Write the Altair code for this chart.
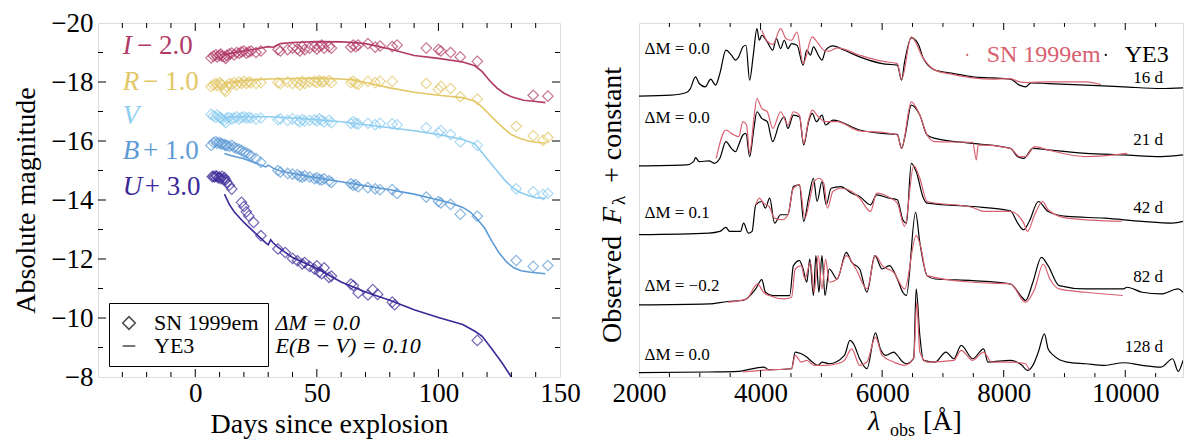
import altair as alt
import pandas as pd

FONT = "Liberation Serif"
RED = "#d9606e"

# ---------------- Left panel: light curves ----------------
bands = ["I", "R", "V", "B", "U"]
band_colors = ["#b23a66", "#e2c766", "#8ccdf0", "#5e9bd6", "#3a2a98"]
band_suffix = ["−  2.0", "−  1.0", "", "+  1.0", "+  3.0"]
label_mag = [-19.21, -18.0, -16.85, -15.67, -14.43]
letter_day = [-29.8, -29.8, -29.8, -29.8, -29.8]
suffix_day = [-24.0, -21.5, -21.5, -21.5, -20.8]

obs_day = [6.5, 7.5, 8.5, 9, 10, 10.5, 11, 12, 12.5, 13, 14, 15, 16, 17, 18, 19, 20, 21, 22, 23,
           25, 27, 34, 35, 38, 40, 42, 43, 44, 45, 47, 49, 50, 51, 52, 53, 55, 56, 64, 65,
           66, 67, 71, 74, 76, 81, 83, 95, 100, 101, 105, 109, 116, 132, 139, 143, 145]
obs_I = [-18.82, -18.88, -18.92, -18.85, -18.9, -18.95, -18.88, -18.85, -18.8, -18.9,
         -18.95, -18.98, -18.92, -19.0, -18.97, -19.02, -19.05, -18.98, -19.02, -19.05,
         -19.0, -19.05, -19.1, -19.05, -19.1, -19.15, -19.12, -19.05, -19.2, -19.1,
         -19.15, -19.2, -19.12, -19.2, -19.25, -19.15, -19.2, -19.15, -19.18, -19.25,
         -19.2, -19.25, -19.3, -19.18, -19.22, -19.2, -19.25, -19.15, -19.1, -19.05,
         -19.0, -18.85, -18.7, None, -17.55, None, -17.52]
obs_R = [-17.85, -17.9, -17.95, -17.88, -17.98, -17.92, -17.9, -17.75, -17.68, -17.85,
         -17.95, -17.92, -17.98, -17.9, -18.0, -17.95, -18.02, -17.95, -18.0, -17.98,
         -17.95, -17.98, -17.98, -17.95, -18.0, -17.95, -17.98, -17.9, -18.02, -17.95,
         -18.0, -18.02, -17.98, -18.05, -18.0, -18.02, -18.05, -17.98, -17.98, -18.02,
         -17.95, -17.92, -18.02, -17.98, -18.02, -18.02, None, -17.95, -17.75, -17.85,
         -17.78, -17.5, -17.42, -16.5, -16.18, -16.02, -16.12]
obs_V = [-16.9, -16.85, -16.8, -16.88, -16.8, -16.78, -16.75, -16.7, -16.62, -16.78,
         -16.8, -16.75, -16.78, -16.82, -16.75, -16.8, -16.82, -16.78, -16.8, -16.78,
         -16.75, -16.78, -16.72, -16.75, -16.7, -16.75, -16.7, -16.65, -16.72, -16.68,
         -16.7, -16.72, -16.68, -16.75, -16.7, -16.65, -16.7, -16.62, -16.6, -16.65,
         -16.6, -16.58, -16.6, -16.55, -16.6, -16.58, -16.55, -16.45, -16.28, -16.35,
         -16.22, -15.97, -15.85, -14.38, -14.28, -14.18, -14.22]
obs_B = [-15.85, -15.95, -15.98, -15.92, -15.95, -15.9, -15.9, -15.88, -15.85, -15.85,
         -15.82, -15.85, -15.78, -15.75, -15.72, -15.68, -15.62, -15.6, -15.55, -15.5,
         -15.4, -15.28, -15.0, -14.95, -14.9, -14.88, -14.85, -14.8, -14.78, -14.82,
         -14.78, -14.72, -14.75, -14.7, -14.68, -14.72, -14.65, -14.6, -14.55, -14.5,
         -14.52, -14.45, -14.42, -14.38, -14.35, -14.35, -14.22, -14.1, -13.95, -13.9,
         -13.85, -13.52, -13.45, -11.95, -11.75, None, -11.78]
obs_U_day = [7, 7.5, 8, 8.5, 9, 9.5, 10, 10.5, 11, 11.5, 12, 12.5, 13, 14, 15, 19, 20, 21, 22, 24,
             27, 34, 37, 40, 42, 44, 45, 47, 49, 50, 51, 52, 53, 55, 56, 64, 65, 67, 71, 73,
             75, 81, 82, 116]
obs_U = [-14.79, -14.8, -14.78, -14.82, -14.8, -14.75, -14.78, -14.72, -14.8, -14.7,
         -14.76, -14.68, -14.6, -14.5, -14.37, -13.92, -13.78, -13.6, -13.46, -13.24,
         -12.79, -12.34, -12.22, -12.02, -11.94, -11.83, -11.88, -11.75, -11.66, -11.77,
         -11.55, -11.5, -11.7, -11.38, -11.42, -11.15, -11.1, -10.85, -10.78, -10.96,
         -10.8, -10.54, -10.45, -9.24]

mod_I_day = [12, 15, 20, 25, 30, 32, 33, 35, 40, 50, 60, 65, 70, 80, 90, 100, 110, 115, 118, 121,
             124, 127, 130, 135, 140, 144]
mod_I = [-18.92, -18.98, -19.05, -19.12, -19.2, -19.18, -19.22, -19.3, -19.34, -19.37,
         -19.36, -19.34, -19.3, -19.12, -18.9, -18.8, -18.68, -18.55, -18.35, -18.05,
         -17.8, -17.62, -17.5, -17.38, -17.34, -17.3]
mod_R_day = [12, 20, 30, 40, 50, 60, 65, 70, 80, 90, 100, 110, 115, 118, 121, 124, 127, 130, 133,
             137, 140, 144]
mod_R = [-17.95, -18.05, -18.1, -18.12, -18.13, -18.1, -18.07, -17.98, -17.8, -17.65,
         -17.55, -17.47, -17.35, -17.15, -16.9, -16.65, -16.42, -16.22, -16.1, -16.0,
         -15.96, -15.93]
mod_V_day = [12, 20, 30, 40, 50, 60, 70, 80, 90, 100, 110, 115, 118, 121, 124, 127, 130, 133, 137,
             140, 144]
mod_V = [-16.8, -16.82, -16.82, -16.78, -16.72, -16.65, -16.55, -16.45, -16.35, -16.22,
         -16.05, -15.9, -15.6, -15.3, -15.0, -14.7, -14.45, -14.28, -14.15, -14.08, -14.05]
mod_B_day = [12, 15, 20, 25, 29, 30, 32, 35, 40, 50, 60, 70, 80, 90, 100, 105, 110, 113, 116, 119,
             122, 125, 128, 131, 134, 138, 144]
mod_B = [-15.58, -15.5, -15.4, -15.25, -15.12, -15.18, -15.08, -14.98, -14.9, -14.75,
         -14.62, -14.48, -14.35, -14.2, -14.0, -13.9, -13.75, -13.6, -13.35, -13.05,
         -12.6, -12.2, -11.9, -11.7, -11.6, -11.55, -11.5]
mod_U_day = [12, 14, 16, 20, 25, 29, 30, 31, 32, 34, 40, 50, 60, 70, 80, 90, 100, 110, 115, 118,
             122, 126, 130, 133]
mod_U = [-14.2, -13.85, -13.6, -13.24, -12.85, -12.55, -12.48, -12.65, -12.55, -12.4,
         -12.05, -11.68, -11.22, -10.88, -10.6, -10.28, -10.02, -9.78, -9.55, -9.38,
         -8.95, -8.5, -8.0, -7.7]

# ---------------- Right panel: spectra ----------------
epochs = ["16 d", "21 d", "42 d", "82 d", "128 d"]
offsets = [281, 211, 142, 72, 4]
dM_text = ["ΔM = 0.0", "ΔM = 0.0", "ΔM = 0.1", "ΔM = −0.2", "ΔM = 0.0"]
dM_rel = [48, 49, 22, 19, 18]
ep_rel = [19, 27, 27, 28, 26]

m16_wl = [2000, 2530, 2780, 2840, 2930, 2990, 3090, 3180, 3260, 3330, 3430, 3520, 3590, 3640, 3710,
          3760, 3820, 3880, 3940, 3980, 4020, 4110, 4200, 4260, 4330, 4390, 4450, 4510, 4600, 4700,
          4760, 4820, 4870, 4950, 5010, 5070, 5190, 5380, 5630, 6000, 6250, 6320, 6370, 6480, 6590,
          6680, 6870, 7180, 7490, 7800, 8110, 8260, 8360, 8450, 8730, 9350, 9970, 10590, 10950]
m16_fx = [0.7, 1.7, 4.3, 7.7, 20, 13.3, 10, 17.7, 11.7, 23.3, 46.7, 41.7, 36.7, 40, 50,
          51.7, 16.7, 41.7, 68.3, 56.7, 61.7, 55, 46.7, 58.3, 48.3, 56.7, 48.3, 53.3, 51.7, 31.7,
          46.7, 41.7, 50, 41.7, 36.7, 46.7, 51, 46.7, 40, 33.3, 31.7, 16.7, 35, 59, 53.3,
          38.3, 26.7, 23.3, 20, 19, 17.7, 11.7, 10, 14, 13.3, 11.7, 10, 8.3, 9]
o16_wl = [4020, 4110, 4200, 4330, 4420, 4510, 4600, 4700, 4850, 4950, 5040, 5130, 5260, 5630, 6000,
          6250, 6320, 6480, 6680, 6870, 7180, 7490, 7800, 8110, 8260, 8390, 8730, 9350, 9600]
o16_fx = [66.7, 55.7, 52.3, 68.3, 58.3, 56.7, 65, 33.3, 60, 53.3, 46.7, 45.7, 49, 41.7, 35.7,
          33.3, 17.7, 60, 38.3, 26.7, 22.3, 19, 17.7, 18.3, 15, 14.3, 15, 15, 12.3]

m21_wl = [2000, 2780, 2900, 2930, 2990, 3150, 3240, 3330, 3430, 3520, 3590, 3640, 3710, 3760, 3820,
          3890, 3940, 4020, 4110, 4200, 4300, 4390, 4450, 4540, 4640, 4710, 4790, 4850, 4920, 5010,
          5070, 5190, 5630, 6000, 6250, 6320, 6380, 6480, 6620, 6740, 6870, 7490, 8110, 8230, 8330,
          8480, 8730, 9350, 9970, 10590, 10950]
m21_fx = [0.7, 1.7, 5, 9, 5, 5.7, 3.3, 8.3, 25, 18.3, 15, 21.7, 31.7, 33.3, 10,
          38.3, 55, 48.3, 45, 25, 41.7, 50, 38.3, 51.7, 50, 21.7, 45, 53.3, 45, 51.7,
          41.7, 46.7, 36.7, 33.3, 32.3, 18.3, 31.7, 61.7, 51.7, 31.7, 28.3, 23.3, 18.3, 10, 8.3,
          18.3, 16.7, 13.3, 11.7, 10, 11.7]
o21_wl = [3270, 3430, 3520, 3640, 3710, 3770, 3820, 3890, 3940, 4020, 4110, 4200, 4330, 4450, 4540,
          4640, 4710, 4790, 4850, 4950, 5070, 5260, 5630, 6000, 6250, 6320, 6480, 6620, 6740, 6870,
          7490, 7550, 7580, 8110, 8260, 8360, 8510, 8730, 9350, 10030]
o21_fx = [8.3, 36.7, 33.3, 30, 45, 41.7, 13.3, 48.3, 68.3, 58.3, 55, 38.3, 55, 41.7, 55,
          51.7, 23.3, 46.7, 56.7, 50, 45, 45, 35.7, 34.3, 31.7, 18.3, 65, 51.7, 31.7, 25,
          24.3, 6.7, 21.7, 18.3, 10, 10, 20, 16.7, 10, 13.3]

m42_wl = [2000, 3150, 3330, 3430, 3490, 3670, 3720, 3800, 3860, 3920, 4020, 4080, 4150, 4230, 4330,
          4450, 4540, 4640, 4710, 4790, 4870, 4930, 5010, 5080, 5160, 5320, 5500, 5630, 5810, 5910,
          6120, 6250, 6340, 6400, 6480, 6560, 6680, 6740, 7490, 8110, 8230, 8330, 8420, 8570, 8730,
          9040, 9660, 10280, 10780, 10950]
m42_fx = [0.7, 2.3, 4, 8, 4, 4, 12.3, 2.3, 4, 30.7, 34, 27.3, 37.3, 12.3, 20.7,
          20.7, 49, 50.7, 14, 37.3, 57.3, 34, 54, 30.7, 47.3, 49, 42.3, 39, 30.7, 40.7,
          37.3, 35.7, 15.7, 12.3, 72.3, 64, 37.3, 32.3, 29, 24.7, 12.3, 5.7, 14, 34, 24,
          19, 17.3, 14, 12.3, 14]
o42_wl = [3920, 3980, 4050, 4140, 4230, 4360, 4450, 4540, 4640, 4730, 4820, 4880, 4960, 5040, 5100,
          5190, 5320, 5500, 5630, 5810, 5910, 6120, 6250, 6370, 6520, 6620, 6740, 7490, 7670, 8110,
          8330, 8390, 8510, 8640, 8730, 9040, 9940]
o42_fx = [30.7, 37.3, 32.3, 29, 17.3, 15.7, 20.7, 47.3, 50.7, 17.3, 39, 54, 57.3, 52.3, 27.3,
          44, 47.3, 44, 37.3, 24, 42.3, 38, 32.3, 9, 70, 57.3, 34, 28, 24, 24,
          12.3, 4, 20.7, 34, 25.7, 17.3, 14]

m82_wl = [2000, 3150, 3460, 3710, 3920, 4020, 4080, 4200, 4390, 4480, 4540, 4640, 4700, 4760, 4810,
          4870, 4910, 4960, 5010, 5060, 5130, 5260, 5410, 5500, 5630, 5750, 5880, 6000, 6120, 6250,
          6340, 6400, 6550, 6620, 6740, 6870, 7490, 8110, 8300, 8360, 8480, 8620, 8730, 8910, 9350,
          9970, 10030, 10280, 10590, 10870, 10950]
m82_fx = [0.3, 1.3, 3.7, 4.7, 16.3, 25.7, 13, 9.7, 9.7, 9.7, 39.7, 44.7, 36.3, 23, 46.3,
          9.7, 49.7, 13, 49.7, 9.7, 36.3, 26.3, 53, 43, 36.3, 13, 49.7, 36.3, 39.7, 26.3,
          13, 9.7, 93, 63, 29.7, 26.3, 24.7, 21.3, 8, 4.7, 23, 48, 39.7, 19.7, 16.3,
          16.3, 18, 13, 11.3, 16.3, 13]
o82_wl = [3460, 3770, 3950, 4050, 4140, 4390, 4510, 4570, 4670, 4730, 4820, 4880, 4950, 5010, 5070,
          5130, 5260, 5410, 5570, 5750, 5890, 6000, 6190, 6370, 6560, 6630, 6740, 7490, 8110, 8360,
          8510, 8650, 8760, 8910, 9350, 9960]
o82_fx = [3, 6.3, 21.3, 13, 9.7, 6.3, 8, 36.3, 39.7, 26.3, 43, 13, 49.7, 16.3, 46.3,
          23, 26.3, 49.7, 36.3, 16.3, 49.7, 39.7, 33, 16.3, 69.7, 59.7, 29.7, 23, 21.3, 3,
          16.3, 41.3, 26.3, 16.3, 13, 9.7]

m128_wl = [2000, 3150, 3640, 4050, 4140, 4510, 4570, 4670, 4760, 4850, 4950, 5010, 5130, 5380, 5470,
           5530, 5630, 5750, 5890, 5970, 6060, 6190, 6250, 6340, 6400, 6520, 6560, 6620, 6680, 6870,
           7050, 7180, 7300, 7490, 7670, 7740, 8110, 8300, 8390, 8480, 8570, 8670, 8730, 8820, 9040,
           9350, 9660, 9970, 10280, 10590, 10780, 10870, 10950]
m128_fx = [0.3, 1, 1.7, 6, 3.3, 4.3, 21, 19.3, 16, 11, 7.7, 11, 9.3, 17.7, 32.7,
           29.3, 14.3, 4.3, 40.3, 24.3, 17.7, 21, 17.7, 11, 9.3, 15, 84.3, 37.7, 12.7, 11,
           21, 14.3, 27.7, 14.3, 24.3, 11, 12.7, 7.7, 2.7, 7.7, 21, 39.3, 24.3, 17.7, 11,
           9.3, 7.7, 10.3, 7.7, 6, 14.3, 1.7, 12.7]
o128_wl = [3710, 4020, 4510, 4570, 4670, 4760, 4880, 5070, 5260, 5380, 5500, 5630, 5750, 5890, 6000,
           6190, 6370, 6520, 6570, 6620, 6740, 7180, 7300, 7490, 7670, 7800, 8110, 8360, 8420]
o128_fx = [1, 2.7, 4.3, 17.7, 11, 12.7, 7.7, 7.7, 9.3, 12.7, 24.3, 7.7, 11, 36, 17.7,
           11, 7.7, 15, 71, 21, 11, 12.7, 22.7, 12.7, 21, 11, 11, 9.3, 2.7]

legend_names = ["SN 1999em", "YE3"]
legend_text_wl = [7720, 9990]
legend_dot_wl = [7400, 9680]
legend_y = 323

# ---------------- build tables ----------------
W1, W2, H = 462, 544, 354

rows = []
for b, mags in zip(["I", "R", "V", "B"], [obs_I, obs_R, obs_V, obs_B]):
    for d, m in zip(obs_day, mags):
        if m is not None:
            rows.append({"band": b, "day": d, "mag": m, "src": "SN 1999em"})
for d, m in zip(obs_U_day, obs_U):
    rows.append({"band": "U", "day": d, "mag": m, "src": "SN 1999em"})
pts = pd.DataFrame(rows)

mrows = []
for b, ds, ms in zip(bands, [mod_I_day, mod_R_day, mod_V_day, mod_B_day, mod_U_day],
                     [mod_I, mod_R, mod_V, mod_B, mod_U]):
    for d, m in zip(ds, ms):
        mrows.append({"band": b, "day": d, "mag": m})
mods = pd.DataFrame(mrows)

labels = pd.DataFrame({"band": bands, "letter": bands, "suffix": band_suffix,
                       "mag": label_mag, "lday": letter_day, "sday": suffix_day})

xL = alt.Scale(domain=[-40, 150], nice=False, zero=False)
yL = alt.Scale(domain=[-20, -8], reverse=True, nice=False, zero=False)
cL = alt.Scale(domain=bands, range=band_colors)

ax_common = dict(labelFont=FONT, titleFont=FONT, labelFontSize=27, titleFontSize=28,
                 titleFontWeight="normal", labelColor="black", titleColor="black",
                 ticks=False, domain=False, grid=False, labelFlush=False, labelOverlap=False,
                 format="d")
AX_XL = alt.Axis(values=[0, 50, 100, 150], title="Days since explosion",
                 labelPadding=3, titlePadding=4, **ax_common)
AX_YL = alt.Axis(values=[-20, -18, -16, -14, -12, -10, -8], title="Absolute magnitude",
                 labelPadding=5, titlePadding=10, **ax_common)


def XL(f):
    return alt.X(f"{f}:Q", scale=xL, axis=AX_XL)


def YL(f):
    return alt.Y(f"{f}:Q", scale=yL, axis=AX_YL)


lines = alt.Chart(mods).mark_line(strokeWidth=1.6, clip=True).encode(
    x=XL("day"), y=YL("mag"), color=alt.Color("band:N", scale=cL, legend=None))

points = alt.Chart(pts).mark_point(filled=False, strokeWidth=1.2, size=110, clip=True).encode(
    x=XL("day"), y=YL("mag"),
    color=alt.Color("band:N", scale=cL, legend=None),
    shape=alt.Shape("src:N", scale=alt.Scale(domain=legend_names, range=["diamond", "stroke"]),
                    legend=alt.Legend(title=None, orient="bottom-left", offset=11, padding=9,
                                      strokeColor="black", fillColor="white", cornerRadius=0,
                                      labelFont=FONT, labelFontSize=22, labelColor="black",
                                      labelOffset=14, rowPadding=1, symbolSize=160,
                                      symbolStrokeColor="black", symbolStrokeWidth=1.5,
                                      symbolFillColor="white")),
)

letters = alt.Chart(labels).mark_text(font=FONT, fontSize=27, fontStyle="italic", align="left",
                                      baseline="middle").encode(
    x=XL("lday"), y=YL("mag"), text="letter:N", color=alt.Color("band:N", scale=cL, legend=None))
suffixes = alt.Chart(labels).mark_text(font=FONT, fontSize=27, align="left",
                                       baseline="middle").encode(
    x=XL("sday"), y=YL("mag"), text="suffix:N", color=alt.Color("band:N", scale=cL, legend=None))

annot = pd.DataFrame({"day": [33, 33], "mag": [-9.83, -9.05],
                      "t": ["ΔM = 0.0", "E(B − V) = 0.10"]})
annot_l = alt.Chart(annot).mark_text(font=FONT, fontSize=22, fontStyle="italic", align="left",
                                     baseline="middle", color="black").encode(
    x=XL("day"), y=YL("mag"), text="t:N")


def x_ticks(vals, enc, field, length, height):
    d = pd.DataFrame({field: vals})
    base = alt.Chart(d).mark_rule(color="black", strokeWidth=1)
    return [base.encode(x=enc(field), y=alt.value(height), y2=alt.value(height - length)),
            base.encode(x=enc(field), y=alt.value(0), y2=alt.value(length))]


def y_ticks(vals, enc, field, length, width):
    d = pd.DataFrame({field: vals})
    base = alt.Chart(d).mark_rule(color="black", strokeWidth=1)
    return [base.encode(y=enc(field), x=alt.value(0), x2=alt.value(length)),
            base.encode(y=enc(field), x=alt.value(width), x2=alt.value(width - length))]


ltick_major_x = [0, 50, 100]
ltick_minor_x = [v for v in range(-30, 150, 10) if v not in ltick_major_x]
ltick_major_y = [-18, -16, -14, -12, -10]
ltick_minor_y = [-19, -17, -15, -13, -11, -9]

left_ticks = (x_ticks(ltick_major_x, XL, "day", 8, H) + x_ticks(ltick_minor_x, XL, "day", 5, H)
              + y_ticks(ltick_major_y, YL, "mag", 8, W1) + y_ticks(ltick_minor_y, YL, "mag", 5, W1))

left = alt.layer(lines, points, letters, suffixes, annot_l, *left_ticks).properties(
    width=W1, height=H)

# ---------------- right panel ----------------
xR = alt.Scale(domain=[2000, 10950], nice=False, zero=False)
yR = alt.Scale(domain=[0, 355], nice=False, zero=False)
AX_XR = alt.Axis(values=[2000, 4000, 6000, 8000, 10000], title=None, labelPadding=3, **ax_common)


def XR(f):
    return alt.X(f"{f}:Q", scale=xR, axis=AX_XR)


def YR(f):
    return alt.Y(f"{f}:Q", scale=yR, axis=None)


spec_rows = []
model_sets = [(m16_wl, m16_fx), (m21_wl, m21_fx), (m42_wl, m42_fx), (m82_wl, m82_fx), (m128_wl, m128_fx)]
obs_sets = [(o16_wl, o16_fx), (o21_wl, o21_fx), (o42_wl, o42_fx), (o82_wl, o82_fx), (o128_wl, o128_fx)]
for ep, off, (mw, mf), (ow, of) in zip(epochs, offsets, model_sets, obs_sets):
    for w, f in zip(mw, mf):
        spec_rows.append({"epoch": ep, "src": "YE3", "wl": w, "y": off + f})
    for w, f in zip(ow, of):
        spec_rows.append({"epoch": ep, "src": "SN 1999em", "wl": w, "y": off + f})
spec = pd.DataFrame(spec_rows)

model_line = alt.Chart(spec).transform_filter(alt.datum.src == "YE3").mark_line(
    color="black", strokeWidth=1.2, interpolate="monotone", clip=True).encode(
    x=XR("wl"), y=YR("y"), detail="epoch:N")
obs_line = alt.Chart(spec).transform_filter(alt.datum.src == "SN 1999em").mark_line(
    color=RED, strokeWidth=1.2, interpolate="monotone", clip=True).encode(
    x=XR("wl"), y=YR("y"), detail="epoch:N")

lab = pd.DataFrame({"dm": dM_text, "ep": epochs,
                    "y_dm": [o + r for o, r in zip(offsets, dM_rel)],
                    "y_ep": [o + r for o, r in zip(offsets, ep_rel)],
                    "wl_dm": [2090] * 5, "wl_ep": [10620] * 5})
dm_text = alt.Chart(lab).mark_text(font=FONT, fontSize=17, align="left", baseline="middle",
                                   color="black").encode(x=XR("wl_dm"), y=YR("y_dm"), text="dm:N")
ep_text = alt.Chart(lab).mark_text(font=FONT, fontSize=17, align="right", baseline="middle",
                                   color="black").encode(x=XR("wl_ep"), y=YR("y_ep"), text="ep:N")

leg = pd.DataFrame({"name": legend_names, "wl_t": legend_text_wl, "wl_d": legend_dot_wl,
                    "y": [legend_y, legend_y]})
cR = alt.Scale(domain=legend_names, range=[RED, "black"])
leg_text = alt.Chart(leg).mark_text(font=FONT, fontSize=24, align="left", baseline="middle").encode(
    x=XR("wl_t"), y=YR("y"), text="name:N", color=alt.Color("name:N", scale=cR, legend=None))
leg_dot = alt.Chart(leg).mark_circle(size=5, opacity=1).encode(
    x=XR("wl_d"), y=YR("y"), color=alt.Color("name:N", scale=cR, legend=None))

# axis titles with italic / subscript pieces
yt_parts = []
for t, px, py, sz, st in [("Observed", -26, 320, 28, "normal"), ("F", -26, 201, 28, "italic"),
                          ("λ", -20, 182, 19, "normal"), ("+ constant", -26, 160, 28, "normal")]:
    yt_parts.append(alt.Chart(pd.DataFrame({"t": [t]})).mark_text(
        font=FONT, fontSize=sz, fontStyle=st, angle=270, align="left", baseline="middle",
        color="black").encode(x=alt.value(px), y=alt.value(py), text="t:N"))
xt_parts = []
for t, px, py, sz, st in [("λ", 229, H + 45, 28, "italic"), ("obs", 251, H + 54, 18, "normal"),
                          ("[Å]", 284, H + 45, 28, "normal")]:
    xt_parts.append(alt.Chart(pd.DataFrame({"t": [t]})).mark_text(
        font=FONT, fontSize=sz, fontStyle=st, align="left", baseline="middle",
        color="black").encode(x=alt.value(px), y=alt.value(py), text="t:N"))

rtick_major = [4000, 6000, 8000, 10000]
rtick_minor = [v for v in range(2500, 11000, 500) if v not in rtick_major]
right_ticks = x_ticks(rtick_major, XR, "wl", 7, H) + x_ticks(rtick_minor, XR, "wl", 4, H)

right = alt.layer(model_line, obs_line, dm_text, ep_text, leg_text, leg_dot, *right_ticks,
                  *yt_parts, *xt_parts).properties(width=W2, height=H)

chart = alt.hconcat(left, right, spacing=79, bounds="flush").resolve_scale(
    x="independent", y="independent", color="independent", shape="independent"
).resolve_legend(color="independent", shape="independent").properties(
    padding={"left": 4, "top": 0, "right": 0, "bottom": 0}
).configure_view(stroke="black", strokeWidth=1.3).configure(background="white")

chart.save("out.html", embed_options={"renderer": "svg", "actions": False})
